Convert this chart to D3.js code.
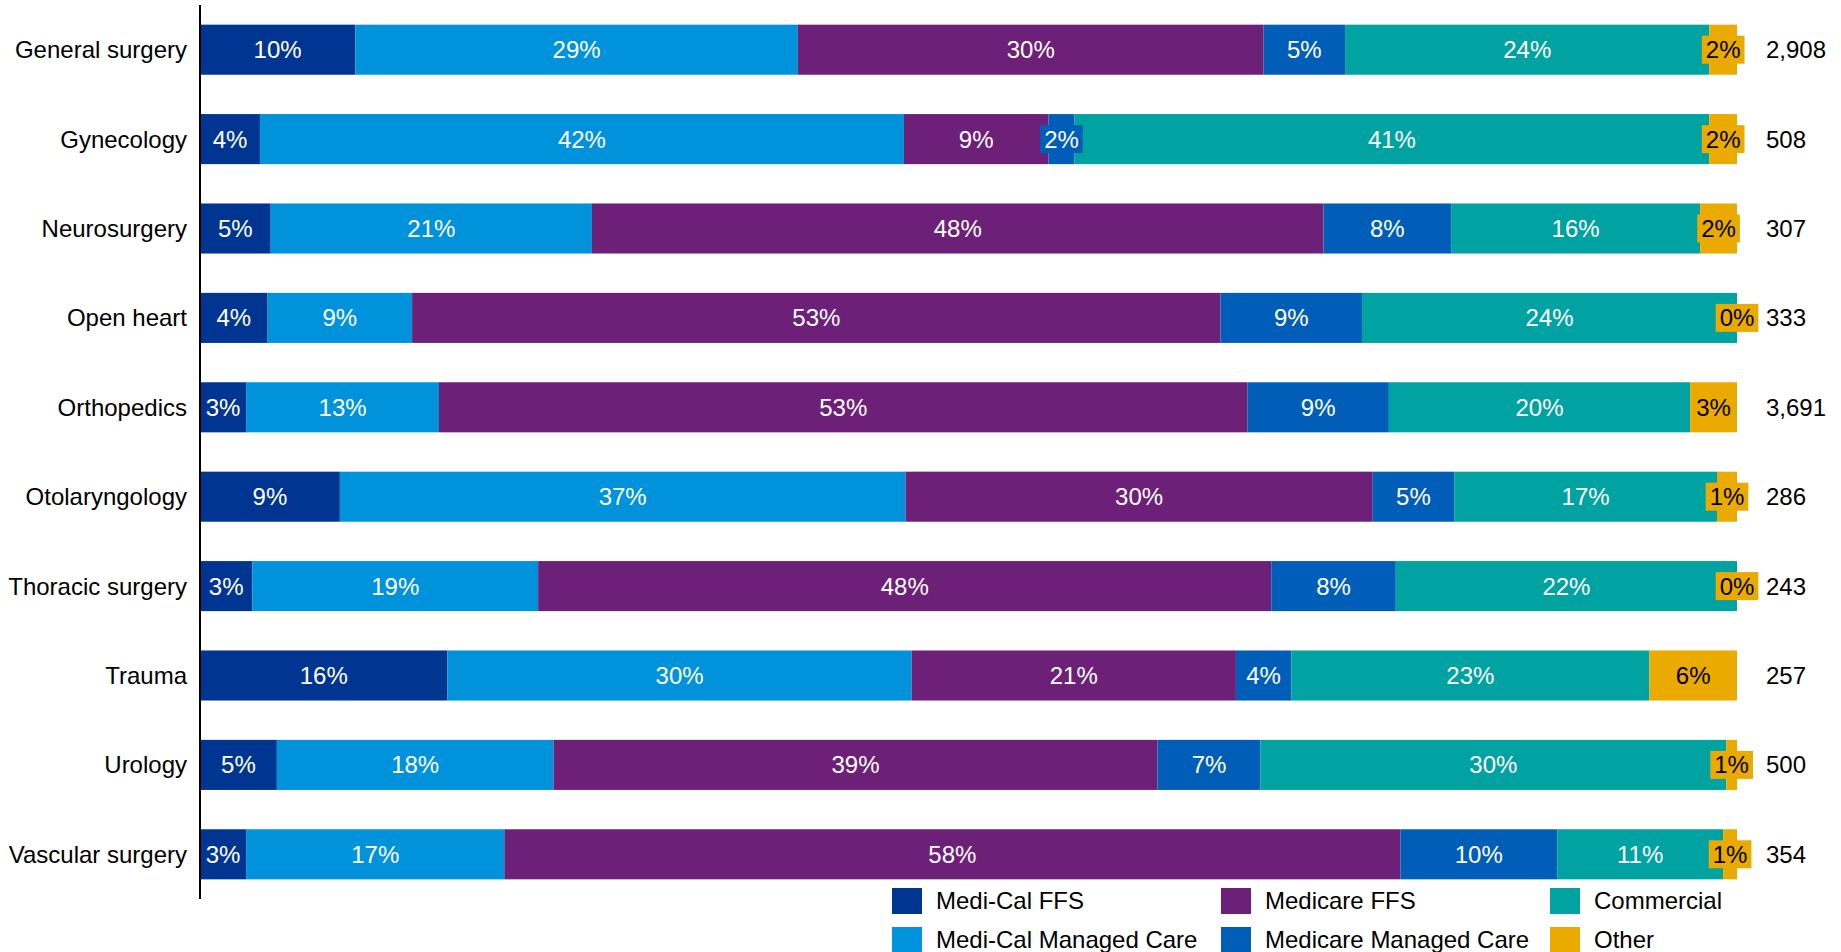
<!DOCTYPE html>
<html>
<head>
<meta charset="utf-8">
<script src="https://cdn.jsdelivr.net/npm/d3@7"></script>
<style>
body { margin: 0; background: #fff; }
text { font-family: "Liberation Sans", Arial, sans-serif; }
</style>
</head>
<body>
<div id="chart"></div>
<script>
//Chart data (percent of cases by payer)
var categories = ["General surgery", "Gynecology", "Neurosurgery", "Open heart", "Orthopedics",
    "Otolaryngology", "Thoracic surgery", "Trauma", "Urology", "Vascular surgery"];
var series = ["Medi-Cal FFS", "Medi-Cal Managed Care", "Medicare FFS", "Medicare Managed Care", "Commercial", "Other"];
var mediCalFFS = [10.1, 3.9, 4.6, 4.4, 3.0, 9.1, 3.4, 16.1, 5.0, 3.0];
var mediCalManaged = [28.8, 41.9, 20.9, 9.4, 12.55, 36.8, 18.6, 30.2, 18.0, 16.8];
var medicareFFS = [30.3, 9.4, 47.6, 52.6, 52.6, 30.4, 47.7, 21.1, 39.3, 58.3];
var medicareManaged = [5.3, 1.7, 8.3, 9.2, 9.2, 5.3, 8.1, 3.6, 6.7, 10.2];
var commercial = [23.7, 41.3, 16.2, 24.4, 19.6, 17.1, 22.2, 23.3, 30.3, 10.8];
var other = [1.8, 1.8, 2.4, 0, 3.05, 1.3, 0, 5.7, 0.7, 0.9];
var totals = [2908, 508, 307, 333, 3691, 286, 243, 257, 500, 354];
var colors = ["#003591", "#0093DB", "#6D2077", "#005EB8", "#00A3A1", "#EAAA00"];

//System dimensions
var width = 1841;
var height = 952;

var rows = categories.map(function(c, i) {
    return {
        category: c,
        "Medi-Cal FFS": mediCalFFS[i],
        "Medi-Cal Managed Care": mediCalManaged[i],
        "Medicare FFS": medicareFFS[i],
        "Medicare Managed Care": medicareManaged[i],
        "Commercial": commercial[i],
        "Other": other[i],
        total: totals[i]
    };
});

var stacked = d3.stack().keys(series)(rows);

var x = d3.scaleLinear()
    .domain([0, 100])
    .range([200, 1737]);

var y = d3.scaleBand()
    .domain(categories)
    .range([5, 899])
    .paddingInner(0.44)
    .paddingOuter(0.22);

var color = d3.scaleOrdinal()
    .domain(series)
    .range(colors);

var svg = d3.select("#chart")
    .append("svg")
    .attr("width", width)
    .attr("height", height);

//Bars
var layers = svg.append("g")
    .selectAll("g")
    .data(stacked)
    .enter()
    .append("g")
    .attr("fill", function(d) {
        return color(d.key);
    });

layers.selectAll("rect")
    .data(function(d) {
        return d;
    })
    .enter()
    .append("rect")
    .attr("x", function(d) {
        return x(d[0]);
    })
    .attr("y", function(d) {
        return y(d.data.category);
    })
    .attr("width", function(d) {
        return x(d[1]) - x(d[0]);
    })
    .attr("height", y.bandwidth());

//Segment labels with filled boxes
var labels = svg.append("g")
    .selectAll("g")
    .data(stacked)
    .enter()
    .append("g")
    .selectAll("g")
    .data(function(d) {
        return d.map(function(p) {
            return {key: d.key, p: p};
        });
    })
    .enter()
    .append("g")
    .attr("transform", function(d) {
        var cx = (x(d.p[0]) + x(d.p[1])) / 2;
        var cy = y(d.p.data.category) + y.bandwidth() / 2;
        return "translate(" + cx + "," + cy + ")";
    });

labels.each(function(d) {
    var g = d3.select(this);
    var t = g.append("text")
        .attr("text-anchor", "middle")
        .attr("dy", "0.35em")
        .style("font-size", "24px")
        .attr("fill", d.key == "Other" ? "#000" : "#fff")
        .text(Math.round(d.p[1] - d.p[0]) + "%");
    var bb = t.node().getBBox();
    g.insert("rect", "text")
        .attr("x", bb.x - 4)
        .attr("y", -14)
        .attr("width", bb.width + 8)
        .attr("height", 28)
        .attr("fill", color(d.key));
});

//Category axis
svg.append("line")
    .attr("x1", 200)
    .attr("x2", 200)
    .attr("y1", y.range()[0])
    .attr("y2", y.range()[1])
    .attr("stroke", "#000")
    .attr("stroke-width", 2);

svg.append("g")
    .selectAll("text")
    .data(categories)
    .enter()
    .append("text")
    .attr("x", 187)
    .attr("y", function(d) {
        return y(d) + y.bandwidth() / 2;
    })
    .attr("dy", "0.35em")
    .attr("text-anchor", "end")
    .style("font-size", "24px")
    .text(function(d) {
        return d;
    });

//Case counts
svg.append("g")
    .selectAll("text")
    .data(rows)
    .enter()
    .append("text")
    .attr("x", 1766)
    .attr("y", function(d) {
        return y(d.category) + y.bandwidth() / 2;
    })
    .attr("dy", "0.35em")
    .style("font-size", "24px")
    .text(function(d) {
        return d3.format(",")(d.total);
    });

//Legend
var legend = svg.append("g")
    .selectAll("g")
    .data(series)
    .enter()
    .append("g")
    .attr("transform", function(d, i) {
        var col = Math.floor(i / 2);
        var row = i % 2;
        return "translate(" + (892 + col * 329) + "," + (901 + row * 39) + ")";
    });

legend.append("rect")
    .attr("x", 0)
    .attr("y", -13)
    .attr("width", 30)
    .attr("height", 26)
    .attr("fill", function(d) {
        return color(d);
    });

legend.append("text")
    .attr("x", 44)
    .attr("dy", "0.35em")
    .style("font-size", "24px")
    .text(function(d) {
        return d;
    });
</script>
</body>
</html>
